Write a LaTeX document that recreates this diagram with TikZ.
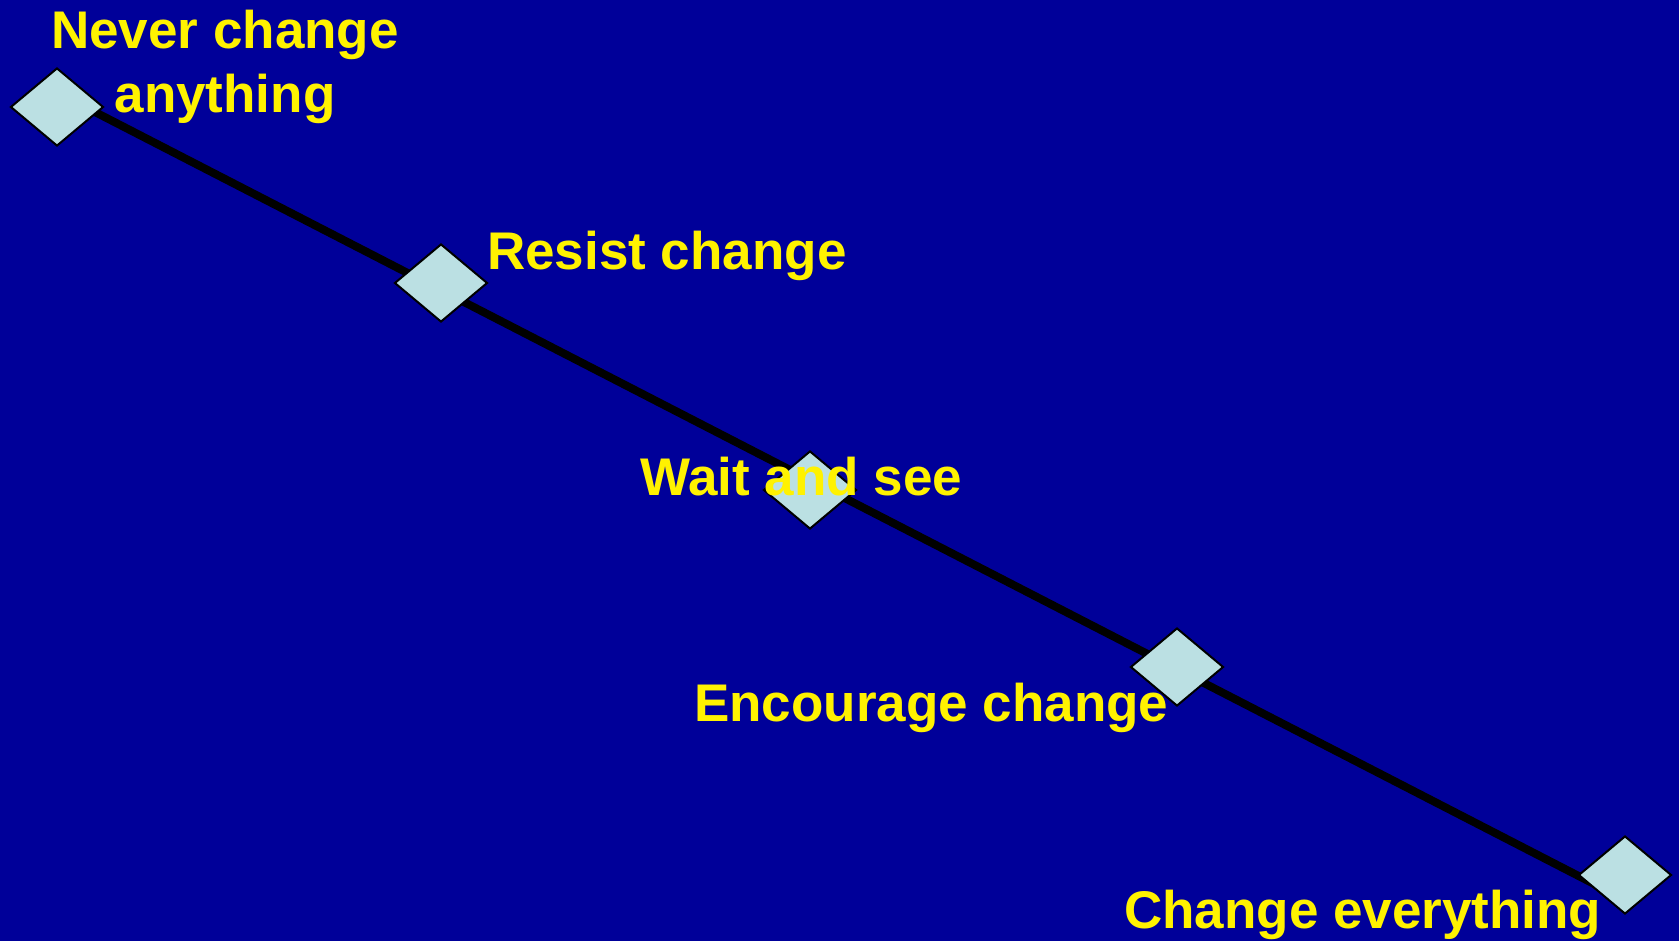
\documentclass[tikz,border=0pt]{standalone}
\usepackage{fontspec}
\setmainfont{Liberation Sans}
\usetikzlibrary{shapes.geometric}
\definecolor{slideblue}{RGB}{0,0,153}
\definecolor{gemfill}{RGB}{187,224,227}

\begin{document}
\begin{tikzpicture}[x=1pt,y=-1pt,
    gem/.style={diamond,draw=black,line width=2pt,fill=gemfill,minimum width=93pt,minimum height=78pt,inner sep=0pt},
    caption/.style={text=yellow,font=\fontsize{53}{64}\selectfont\bfseries,inner sep=0pt}]
    \fill[slideblue] (0,0) rectangle (1679,941);
    \useasboundingbox (0,0) rectangle (1679,941);

    % the scale line, behind the markers
    \coordinate (high) at (60,94);
    \coordinate (low) at (1600,887);
    \draw[line width=8pt] (high) -- (low);

    \foreach \name/\x/\y in {never/57/107, resist/441/283, wait/810/490, encourage/1177/667, all/1625/875} {
        \node[gem] (\name) at (\x,\y) {};
    }

    \node[caption,align=center,anchor=base] (neverlabel) at (225,113) {Never change\\anything};
    \foreach \name/\x/\y/\label in {resist/487/270/Resist change, wait/640/495/Wait and see, encourage/694/721/Encourage change, all/1124/928/Change everything} {
        \node[caption,anchor=base west] (\name label) at (\x,\y) {\label};
    }
\end{tikzpicture}
\end{document}
